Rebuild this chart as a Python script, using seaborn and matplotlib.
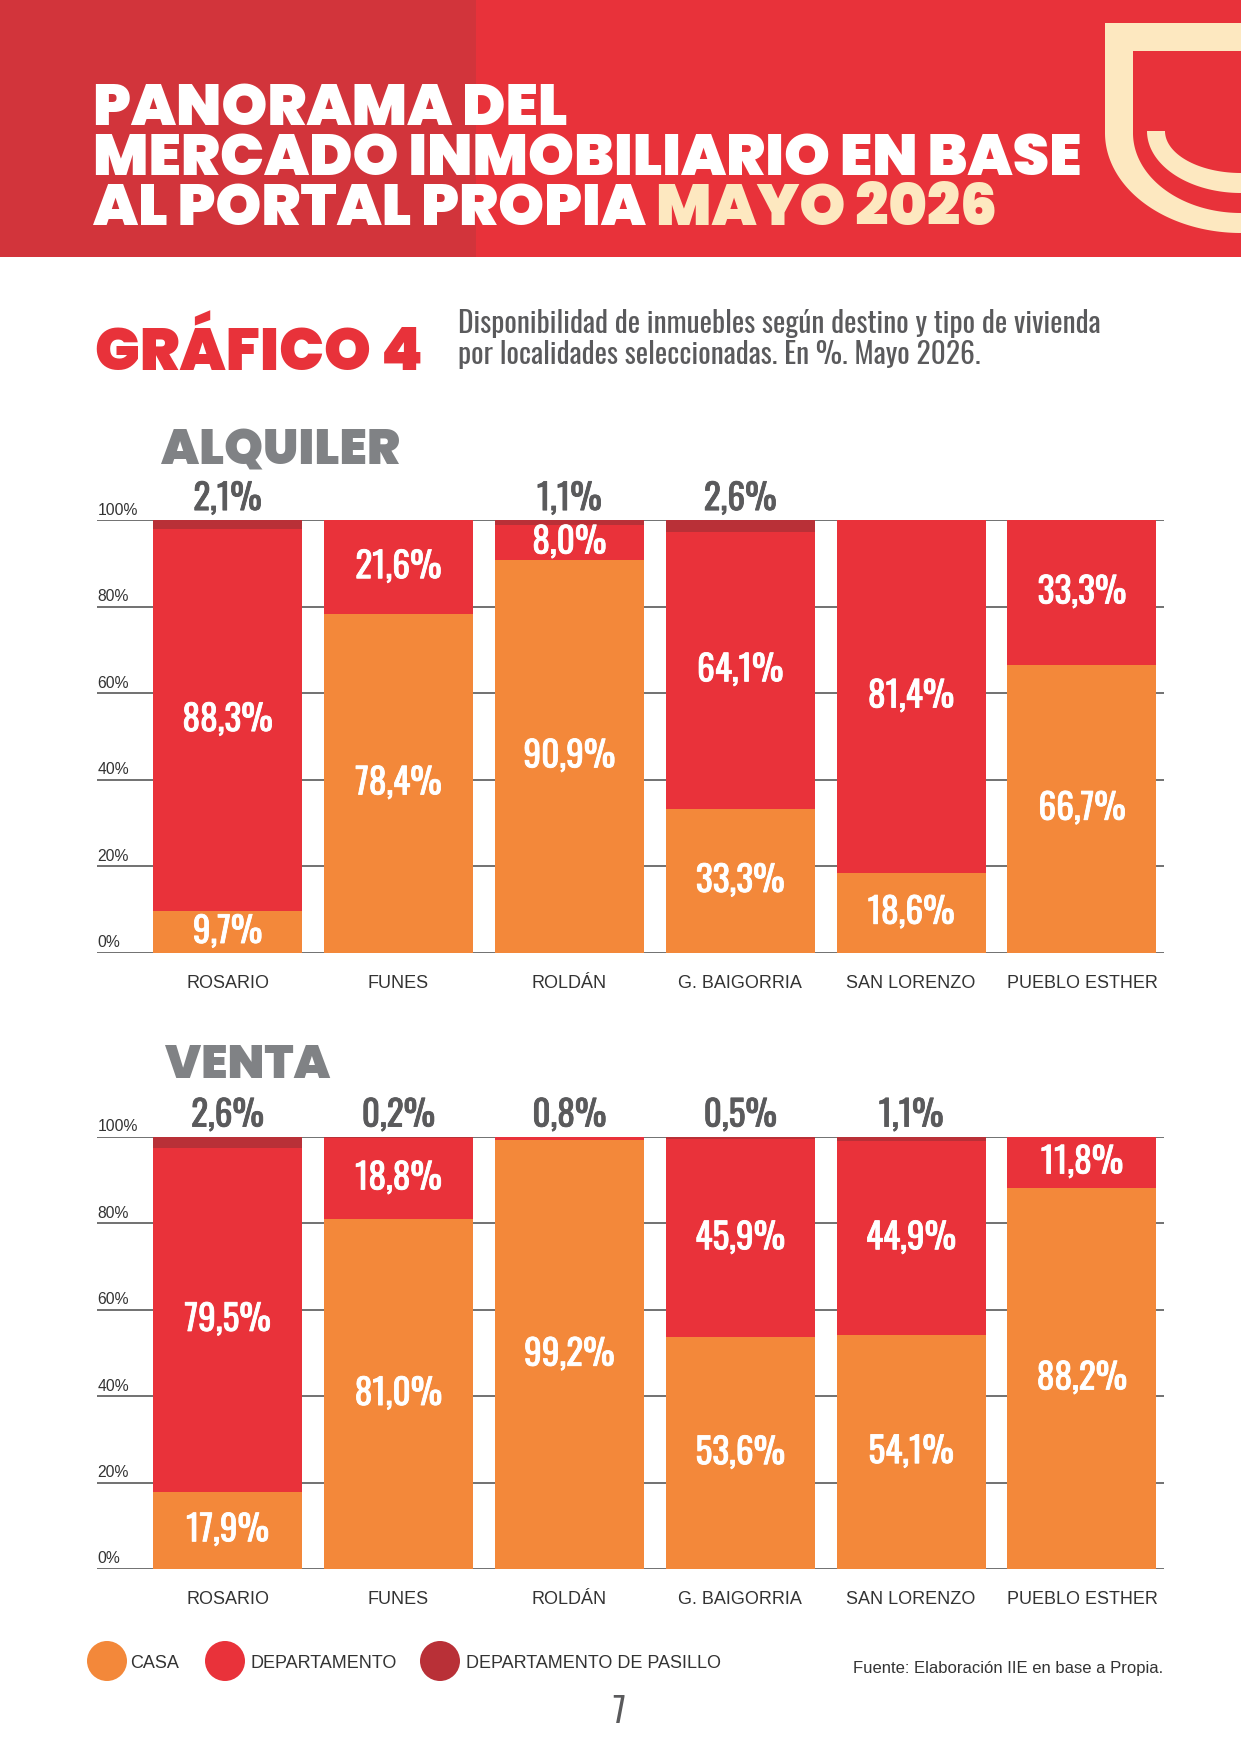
import numpy as np
import pandas as pd
import matplotlib
matplotlib.use("Agg")
import matplotlib.pyplot as plt
import matplotlib.patheffects as pe
import seaborn as sns
from matplotlib import font_manager as fm
from matplotlib.font_manager import FontProperties
from matplotlib.patches import Rectangle, Polygon, Circle

# ---------------- data ----------------
localidades = ["ROSARIO", "FUNES", "ROLDÁN", "G. BAIGORRIA", "SAN LORENZO", "PUEBLO ESTHER"]
alq_casa = [9.7, 78.4, 90.9, 33.3, 18.6, 66.7]
alq_depto = [88.3, 21.6, 8.0, 64.1, 81.4, 33.3]
alq_pasillo = [2.1, 0.0, 1.1, 2.6, 0.0, 0.0]
ven_casa = [17.9, 81.0, 99.2, 53.6, 54.1, 88.2]
ven_depto = [79.5, 18.8, 0.8, 45.9, 44.9, 11.8]
ven_pasillo = [2.6, 0.2, 0.0, 0.5, 1.1, 0.0]
y_ticks = [0, 20, 40, 60, 80, 100]
series_names = ["CASA", "DEPARTAMENTO", "DEPARTAMENTO DE PASILLO"]
section_titles = ["ALQUILER", "VENTA"]
title_lines = ["PANORAMA DEL", "MERCADO INMOBILIARIO EN BASE", "AL PORTAL PROPIA"]
title_highlight = "MAYO 2026"

# ---------------- style ----------------
C_CASA = "#F3883A"
C_DEPTO = "#E9323A"
C_PAS = "#B93037"
C_HEAD_L = "#D2343B"
C_HEAD_R = "#E8323A"
C_CREAM = "#FDE8C0"
C_GRAY = "#808285"
C_DARK = "#5A5A5C"

sns.set_theme(style="white")
avail = {f.name for f in fm.fontManager.ttflist}

def pick(cands, default="DejaVu Sans"):
    for c in cands:
        if c in avail:
            return c
    return default

COND = pick(["Oswald", "Barlow Condensed", "Roboto Condensed"])
HEAVY = pick(["Poppins", "Inter", "Lato"])
REG = pick(["Liberation Sans", "Roboto", "DejaVu Sans"])
plt.rcParams["font.family"] = [REG, "DejaVu Sans"]

W, H = 1241, 1754
fig = plt.figure(figsize=(W / 100, H / 100), dpi=100)
fig.patch.set_facecolor("white")

bg = fig.add_axes([0, 0, 1, 1], zorder=-1)
bg.set_xlim(0, W)
bg.set_ylim(H, 0)
bg.axis("off")

# header band
bg.add_patch(Rectangle((0, 0), W, 257, color=C_HEAD_R, lw=0))
bg.add_patch(Rectangle((0, 0), 476, 257, color=C_HEAD_L, lw=0))

def quarter(cx, cy, rx, ry, n=80):
    t = np.linspace(np.pi, np.pi / 2, n)
    return np.column_stack([cx + rx * np.cos(t), cy + ry * np.sin(t)])

outer = np.vstack([[[1105, 23], [W + 5, 23], [W + 5, 233]], quarter(W, 133, 136, 100)[::-1]])
bg.add_patch(Polygon(outer, closed=True, color=C_CREAM, lw=0))
inner_red = np.vstack([[[1133, 51], [W + 5, 51], [W + 5, 213]], quarter(W, 133, 108, 80)[::-1]])
bg.add_patch(Polygon(inner_red, closed=True, color=C_HEAD_R, lw=0))
band = np.vstack([quarter(W, 131, 94, 62), [[W + 5, 193], [W + 5, 173]], quarter(W, 131, 76, 42)[::-1]])
bg.add_patch(Polygon(band, closed=True, color=C_CREAM, lw=0))

fig.canvas.draw()
R = fig.canvas.get_renderer()

def fit(t, width_px):
    bb = t.get_window_extent(renderer=R)
    t.set_fontsize(t.get_fontsize() * width_px / bb.width)
    return t.get_fontsize()

# title (one multi-line text + highlighted words); last line baseline at y=225
probe = bg.text(0, 0, title_lines[1], family=HEAVY, weight="black", fontsize=38)
fs = fit(probe, 990)
probe.set_text(title_lines[2] + " ")
w3 = probe.get_window_extent(renderer=R).width
probe.remove()
fp = FontProperties(family=HEAVY, weight="black", size=fs)
lp_w, lp_h, lp_d = R.get_text_width_height_descent("lp", fp, ismath=False)
ls = (50 - lp_d) / (lp_h - lp_d)
bg.text(93, 225, "\n".join(title_lines), color="white", family=HEAVY, weight="black",
        fontsize=fs, va="baseline", ha="left", linespacing=ls, multialignment="left")
bg.text(93 + w3, 225, title_highlight, color=C_CREAM, family=HEAVY, weight="black",
        fontsize=fs, va="baseline", ha="left")

# GRÁFICO 4
g4 = bg.text(95, 370, "GRÁFICO 4", color=C_HEAD_R, family=HEAVY, weight="black", fontsize=43)
fit(g4, 328)
s1 = bg.text(458, 333, "Disponibilidad de inmuebles según destino y tipo de vivienda",
             color=C_DARK, family=COND, fontsize=20)
sfs = fit(s1, 644)
bg.text(458, 364, "por localidades seleccionadas. En %. Mayo 2026.", color=C_DARK, family=COND,
        fontsize=sfs)

# section titles
st1 = bg.text(161, 464, section_titles[0], color=C_GRAY, family=HEAVY, weight="black", fontsize=36)
tfs = fit(st1, 239)
bg.text(165, 1078, section_titles[1], color=C_GRAY, family=HEAVY, weight="black", fontsize=tfs * 0.96)

# ---------------- charts ----------------
def fmt(v):
    return f"{v:.1f}".replace(".", ",") + "%"

def bold(color):
    return [pe.withStroke(linewidth=0.6, foreground=color)]

def chart(rect, casa, depto, pasillo):
    df = pd.DataFrame({"localidad": localidades, "casa": casa, "depto": depto, "pasillo": pasillo})
    df["top_depto"] = df["casa"] + df["depto"]
    df["top_all"] = df["top_depto"] + df["pasillo"]
    ax = fig.add_axes(rect)
    ax.set_facecolor("none")
    bw = 0.872
    for col, colr in [("top_all", C_PAS), ("top_depto", C_DEPTO), ("casa", C_CASA)]:
        sns.barplot(data=df, x="localidad", y=col, order=localidades, color=colr,
                    saturation=1, width=bw, linewidth=0, ax=ax, zorder=2)
    ax.set_ylim(0, 100)
    ax.set_xlim(-0.764, 5.48)
    ax.set_yticks(y_ticks)
    ax.grid(axis="y", color="#4a4a4a", lw=1.1, zorder=0)
    ax.grid(axis="x", visible=False)
    ax.set_axisbelow(True)
    for s in ax.spines.values():
        s.set_visible(False)
    ax.tick_params(axis="y", left=False, labelleft=False)
    ax.tick_params(axis="x", length=0, pad=16, labelsize=13, labelcolor="#333333")
    for lab in ax.get_xticklabels():
        lab.set_family([REG, "DejaVu Sans"])
    ax.set_xlabel("")
    ax.set_ylabel("")
    for v in y_ticks:
        ax.annotate(f"{v}%", xy=(0, v), xycoords=("axes fraction", "data"), xytext=(0.5, 4),
                    textcoords="offset points", va="baseline", ha="left", fontsize=11.3,
                    color="#333333", annotation_clip=False)
    for i, row in df.iterrows():
        base = 0.0
        for col in ["casa", "depto", "pasillo"]:
            v = row[col]
            if v >= 5:
                ax.text(i, base + v / 2, fmt(v), ha="center", va="center", color="white",
                        family=[COND, "DejaVu Sans"], fontsize=25.5, zorder=5,
                        path_effects=bold("white"))
            elif v > 0:
                ax.annotate(fmt(v), xy=(i, 100), xytext=(0, 7.5), textcoords="offset points",
                            ha="center", va="baseline", color=C_DARK, family=[COND, "DejaVu Sans"],
                            fontsize=25.5, annotation_clip=False, path_effects=bold(C_DARK))
            base += v
    return ax

left = 97 / W
width = (1164 - 97) / W
chart([left, 1 - 953 / H, width, (953 - 520.5) / H], alq_casa, alq_depto, alq_pasillo)
chart([left, 1 - 1569 / H, width, (1569 - 1137) / H], ven_casa, ven_depto, ven_pasillo)

# legend
leg_colors = [C_CASA, C_DEPTO, C_PAS]
circ_x = [107, 225, 440]
txt_x = [130, 251, 466]
for name, c, cx, tx in zip(series_names, leg_colors, circ_x, txt_x):
    bg.add_patch(Circle((cx, 1661), 20, color=c, lw=0))
    bg.text(tx, 1663, name, va="center", ha="left", fontsize=13, color="#333333", family=REG)

bg.text(1163, 1668, "Fuente: Elaboración IIE en base a Propia.", ha="right", va="center",
        fontsize=12, color="#333333", family=REG)
bg.text(619, 1712, "7", ha="center", va="center", fontsize=24, color=C_DARK, family=COND)

fig.savefig("out.png", dpi=100)
